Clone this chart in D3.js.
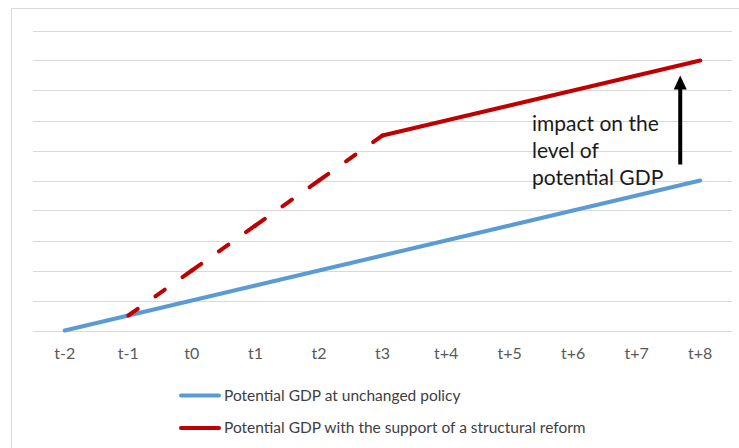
<!DOCTYPE html>
<html>
<head>
<meta charset="utf-8">
<script src="https://cdn.jsdelivr.net/npm/d3@7"></script>
<style>
  html, body { margin: 0; padding: 0; background: #fff; }
  svg { display: block; }
</style>
</head>
<body>
<svg id="chart" width="739" height="448"></svg>
<script>
const categories = ["t-2", "t-1", "t0", "t1", "t2", "t3", "t+4", "t+5", "t+6", "t+7", "t+8"];
const baselineValues = [0, 0.5, 1, 1.5, 2, 2.5, 3, 3.5, 4, 4.5, 5];
const reformDashedCats = ["t-1", "t0", "t1", "t2", "t3"];
const reformDashedValues = [0.5, 2, 3.5, 5, 6.5];
const reformSolidCats = ["t3", "t+4", "t+5", "t+6", "t+7", "t+8"];
const reformSolidValues = [6.5, 7, 7.5, 8, 8.5, 9];
const gridTicks = [0, 1, 2, 3, 4, 5, 6, 7, 8, 9, 10];
const annotationLines = ["impact on the", "level of", "potential GDP"];
const legendLabels = ["Potential GDP at unchanged policy", "Potential GDP with the support of a structural reform"];

const blue = "#5b9bd5", red = "#c00000";
const svg = d3.select("#chart");
const font = "Lato, 'Open Sans', sans-serif";

// chart frame
svg.append("rect").attr("x", 11.5).attr("y", 8.5).attr("width", 760).attr("height", 460)
  .attr("fill", "#fff").attr("stroke", "#d9d9d9").attr("stroke-width", 1);

const x = d3.scaleBand().domain(categories).range([33, 732]);
const cx = c => x(c) + x.bandwidth() / 2;
const y = d3.scaleLinear().domain([0, 10]).range([330.5, 30.5]);

// gridlines
svg.append("g").selectAll("line").data(gridTicks).join("line")
  .attr("x1", 33).attr("x2", 732)
  .attr("y1", d => Math.round(y(d)) + 0.5).attr("y2", d => Math.round(y(d)) + 0.5)
  .attr("stroke", "#d9d9d9").attr("stroke-width", 1);

// x axis labels
const xAxis = d3.axisBottom(x).tickSize(0).tickPadding(0);
const ax = svg.append("g").attr("transform", "translate(0,359)").call(xAxis);
ax.select(".domain").remove();
ax.attr("font-size", null).attr("font-family", null);
ax.selectAll("text").attr("font-family", font).attr("font-size", 16)
  .attr("fill", "#595959").attr("dy", "0");

const line = d3.line().x(d => cx(d[0])).y(d => y(d[1]));

// baseline series
svg.append("path").datum(categories.map((c, i) => [c, baselineValues[i]]))
  .attr("d", line).attr("fill", "none").attr("stroke", blue)
  .attr("stroke-width", 4).attr("stroke-linecap", "round").attr("stroke-linejoin", "round");

// reform dashed: each segment drawn separately so the dash pattern restarts at each point
const dashedPts = reformDashedCats.map((c, i) => [c, reformDashedValues[i]]);
for (let i = 0; i < dashedPts.length - 1; i++) {
  const a = dashedPts[i], b = dashedPts[i + 1];
  const L = Math.hypot(cx(b[0]) - cx(a[0]), y(b[1]) - y(a[1]));
  const d = 11.5, g = (L - 3 * d) / 2;
  svg.append("path").datum([a, b]).attr("d", line).attr("fill", "none")
    .attr("stroke", red).attr("stroke-width", 4).attr("stroke-linecap", "round")
    .attr("stroke-dasharray", `${d} ${g}`);
}

// reform solid
svg.append("path").datum(reformSolidCats.map((c, i) => [c, reformSolidValues[i]]))
  .attr("d", line).attr("fill", "none").attr("stroke", red)
  .attr("stroke-width", 4).attr("stroke-linecap", "round").attr("stroke-linejoin", "round");

// arrow
const lastCat = categories[categories.length - 1];
const ax0 = cx(lastCat) - 20;
const yBottom = y(baselineValues[baselineValues.length - 1]) - 16;
const yTip = y(reformSolidValues[reformSolidValues.length - 1]) + 15;
svg.append("line").attr("x1", ax0).attr("x2", ax0).attr("y1", yBottom).attr("y2", yTip + 12)
  .attr("stroke", "#000").attr("stroke-width", 4);
svg.append("path")
  .attr("d", `M${ax0},${yTip} L${ax0 - 6.5},${yTip + 14} L${ax0 + 6.5},${yTip + 14} Z`)
  .attr("fill", "#000");

// annotation text
const ann = svg.append("text").attr("font-family", font).attr("font-size", 21).attr("fill", "#1a1a1a");
annotationLines.forEach((t, i) => {
  ann.append("tspan").attr("x", 532).attr("y", 131 + i * 27).text(t);
});

// legend
const legendColors = [blue, red];
const lg = svg.append("g");
legendLabels.forEach((t, i) => {
  const ly = 395.5 + i * 32.5;
  lg.append("line").attr("x1", 181).attr("x2", 219).attr("y1", ly).attr("y2", ly)
    .attr("stroke", legendColors[i]).attr("stroke-width", 4).attr("stroke-linecap", "round");
  lg.append("text").attr("x", 224).attr("y", ly + 5).attr("font-family", font)
    .attr("font-size", 15.5).attr("fill", "#404040").text(t);
});
</script>
</body>
</html>
